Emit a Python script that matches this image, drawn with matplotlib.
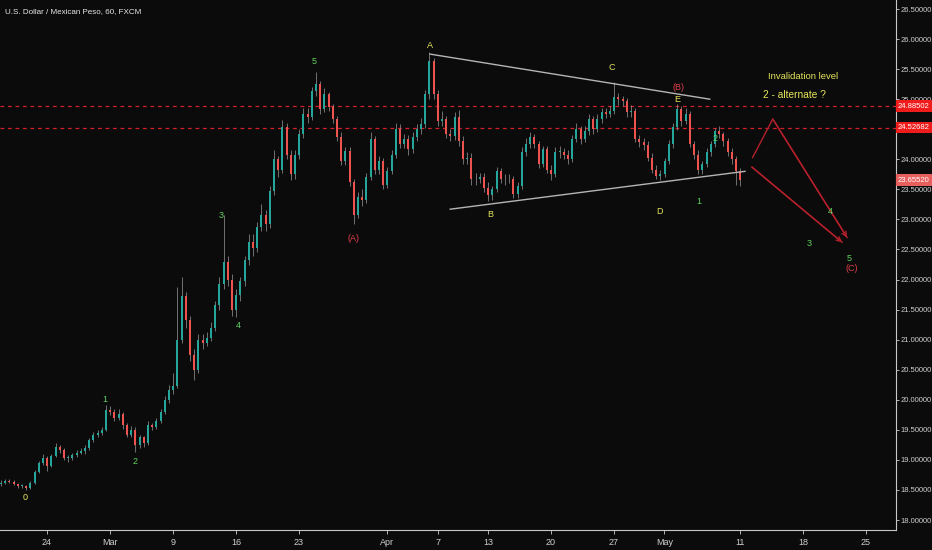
import matplotlib
matplotlib.use("Agg")
import matplotlib.pyplot as plt
import numpy as np

plt.rcParams['font.family'] = ['Liberation Sans', 'DejaVu Sans']

# 8-hour candles (close / high / low), USDMXN 2020
closes = [18.62, 18.65, 18.63, 18.60, 18.57, 18.57, 18.53, 18.62, 18.80, 18.95,
          19.03, 18.90, 19.07, 19.22, 19.17, 19.03, 19.03, 19.08, 19.12, 19.15,
          19.20, 19.33, 19.42, 19.45, 19.50, 19.83, 19.80, 19.70, 19.77, 19.58,
          19.42, 19.50, 19.25, 19.38, 19.28, 19.58, 19.55, 19.65, 19.80, 20.00,
          20.17, 20.23, 21.00, 21.72, 21.33, 20.75, 20.50, 21.00, 20.95, 21.03,
          21.20, 21.58, 21.92, 22.30, 22.00, 21.50, 21.75, 21.97, 22.33, 22.62,
          22.53, 22.87, 23.08, 22.92, 23.47, 24.00, 23.83, 24.53, 24.08, 23.75,
          24.08, 24.42, 24.75, 24.70, 25.13, 25.25, 24.83, 25.08, 24.87, 24.67,
          24.37, 23.97, 24.13, 23.62, 23.08, 23.37, 23.33, 23.70, 24.33, 23.83,
          23.97, 23.58, 23.80, 24.08, 24.50, 24.25, 24.33, 24.17, 24.37, 24.50,
          24.58, 25.08, 25.63, 25.08, 24.63, 24.67, 24.42, 24.38, 24.70, 24.30,
          24.00, 24.03, 23.67, 23.67, 23.70, 23.53, 23.40, 23.50, 23.80, 23.67,
          23.67, 23.67, 23.42, 23.55, 24.12, 24.25, 24.37, 24.25, 23.92, 24.17,
          23.83, 23.75, 24.12, 24.12, 24.08, 24.00, 24.33, 24.50, 24.33, 24.47,
          24.67, 24.50, 24.67, 24.78, 24.75, 24.80, 25.03, 25.00, 24.97, 24.78,
          24.80, 24.33, 24.28, 24.23, 24.03, 23.83, 23.72, 23.75, 23.97, 24.25,
          24.53, 24.83, 24.63, 24.75, 24.25, 24.08, 23.83, 23.92, 24.12, 24.25,
          24.47, 24.42, 24.30, 24.12, 24.00, 23.80, 23.66]

highs = [18.66, 18.68, 18.68, 18.66, 18.62, 18.60, 18.59, 18.65, 18.84, 18.99,
         19.10, 19.06, 19.10, 19.28, 19.25, 19.19, 19.08, 19.12, 19.16, 19.19,
         19.25, 19.37, 19.47, 19.50, 19.55, 19.92, 19.90, 19.84, 19.85, 19.80,
         19.62, 19.56, 19.55, 19.42, 19.40, 19.64, 19.62, 19.70, 19.85, 20.06,
         20.25, 20.45, 21.87, 22.05, 21.80, 21.40, 20.85, 21.10, 21.10, 21.12,
         21.30, 21.65, 22.05, 23.08, 22.40, 22.10, 21.85, 22.05, 22.40, 22.75,
         22.75, 22.95, 23.25, 23.15, 23.55, 24.15, 24.05, 24.65, 24.60, 24.15,
         24.15, 24.50, 24.85, 24.85, 25.20, 25.45, 25.30, 25.18, 25.12, 24.92,
         24.72, 24.45, 24.20, 24.20, 23.68, 23.45, 23.50, 23.78, 24.45, 24.38,
         24.05, 24.02, 23.88, 24.15, 24.60, 24.58, 24.42, 24.40, 24.45, 24.58,
         24.68, 25.15, 25.78, 25.68, 25.15, 24.80, 24.72, 24.50, 24.78, 24.82,
         24.38, 24.12, 24.10, 23.78, 23.78, 23.78, 23.62, 23.55, 23.88, 23.85,
         23.75, 23.75, 23.72, 23.62, 24.20, 24.35, 24.45, 24.42, 24.30, 24.22,
         24.22, 23.90, 24.20, 24.22, 24.18, 24.15, 24.40, 24.60, 24.55, 24.55,
         24.75, 24.72, 24.75, 24.85, 24.85, 24.88, 25.28, 25.10, 25.05, 25.02,
         24.90, 24.85, 24.40, 24.35, 24.30, 24.10, 23.90, 23.82, 24.02, 24.32,
         24.60, 24.92, 24.88, 24.85, 24.80, 24.30, 24.15, 23.98, 24.18, 24.30,
         24.52, 24.55, 24.45, 24.35, 24.18, 24.05, 23.85]

lows = [18.57, 18.60, 18.61, 18.58, 18.54, 18.54, 18.50, 18.52, 18.60, 18.78,
        18.92, 18.82, 18.88, 19.04, 19.12, 19.00, 18.97, 19.00, 19.05, 19.09,
        19.10, 19.17, 19.30, 19.38, 19.42, 19.48, 19.74, 19.65, 19.66, 19.52,
        19.38, 19.38, 19.13, 19.20, 19.22, 19.25, 19.50, 19.52, 19.62, 19.77,
        19.95, 20.10, 20.20, 20.95, 21.20, 20.65, 20.33, 20.45, 20.85, 20.90,
        20.98, 21.15, 21.50, 21.85, 21.90, 21.40, 21.37, 21.65, 21.90, 22.25,
        22.40, 22.45, 22.80, 22.80, 22.85, 23.40, 23.70, 23.78, 24.00, 23.65,
        23.68, 24.00, 24.35, 24.60, 24.65, 25.05, 24.75, 24.78, 24.80, 24.60,
        24.30, 23.90, 23.90, 23.55, 22.92, 23.02, 23.22, 23.28, 23.65, 23.75,
        23.75, 23.50, 23.52, 23.75, 24.02, 24.18, 24.18, 24.08, 24.10, 24.30,
        24.42, 24.52, 25.00, 25.00, 24.55, 24.55, 24.35, 24.30, 24.32, 24.22,
        23.92, 23.92, 23.58, 23.58, 23.60, 23.45, 23.30, 23.33, 23.45, 23.60,
        23.58, 23.60, 23.36, 23.36, 23.50, 24.05, 24.18, 24.18, 23.85, 23.88,
        23.78, 23.65, 23.70, 24.02, 24.00, 23.92, 23.95, 24.28, 24.25, 24.28,
        24.40, 24.42, 24.45, 24.60, 24.68, 24.70, 24.75, 24.90, 24.88, 24.70,
        24.70, 24.28, 24.20, 24.15, 23.98, 23.78, 23.68, 23.65, 23.70, 23.92,
        24.18, 24.48, 24.55, 24.58, 24.20, 24.00, 23.75, 23.76, 23.88, 24.05,
        24.20, 24.35, 24.22, 24.05, 23.92, 23.58, 23.56]

first_open = 18.60

# axis labels (trading-day index since Mon 24 Feb)
tick_days = [0, 5, 10, 15, 20, 27, 31, 35, 40, 45, 49, 55, 60, 65]
tick_labels = ['24', 'Mar', '9', '16', '23', 'Apr', '7', '13', '20', '27', 'May', '11', '18', '25']

price_ticks = [18.0, 18.5, 19.0, 19.5, 20.0, 20.5, 21.0, 21.5, 22.0,
               22.5, 23.0, 23.5, 24.0, 24.5, 25.0, 25.5, 26.0, 26.5]

level_hi = 24.88502
level_lo = 24.52682
last_price = 23.65520

# triangle trendlines (day, price)
upper_tl = ([30.4, 52.6], [25.75, 25.00])
lower_tl = ([32.0, 55.4], [23.17, 23.80])

# projected paths
alt_path = ([56.0, 57.6, 63.5], [24.03, 24.67, 22.70])
main_path = ([55.95, 63.1], [23.87, 22.62])

# wave labels: (text, day, price, colour)
GREEN = '#5fd35f'
YEL = '#e6e65a'
RED = '#e0404a'
wave_labels = [
    ('0', -1.75, 18.38, YEL), ('1', 4.6, 20.0, GREEN), ('2', 6.98, 18.97, GREEN),
    ('3', 13.8, 23.07, GREEN), ('4', 15.15, 21.23, GREEN), ('5', 21.2, 25.63, GREEN),
    ('(A)', 24.3, 22.68, RED), ('A', 30.4, 25.9, YEL), ('B', 35.16, 23.08, YEL),
    ('C', 44.85, 25.53, YEL), ('(B)', 50.1, 25.2, RED), ('E', 50.0, 25.0, YEL),
    ('D', 48.65, 23.13, YEL), ('1', 51.7, 23.3, GREEN), ('2', 53.0, 24.35, GREEN),
    ('4', 62.14, 23.13, GREEN), ('3', 60.5, 22.6, GREEN), ('5', 63.7, 22.35, GREEN),
    ('(C)', 63.9, 22.18, RED),
]

BG = '#0b0b0b'
UP = '#26a69a'
DOWN = '#ef5350'

fig = plt.figure(figsize=(9.32, 5.50), dpi=100, facecolor=BG)
ax = fig.add_axes([0, 20 / 550, 896 / 932, 530 / 550], facecolor=BG)

n = len(closes)
xs = -3.65 + np.arange(n) / 3.0
opens = [first_open] + closes[:-1]
o = np.array(opens)
c = np.array(closes)
up = c >= o
cols = np.where(up, UP, DOWN)

ax.vlines(xs, lows, highs, colors='#9a9a9a', linewidth=0.5, zorder=2)
ax.bar(xs, np.maximum(np.abs(c - o), 0.01), bottom=np.minimum(o, c),
       width=0.17, color=cols, linewidth=0, zorder=3)

# invalidation levels
for lv in (level_hi, level_lo):
    ax.axhline(lv, color='#d0202a', linewidth=0.9, linestyle=(0, (3, 3)), zorder=1)

ax.plot(*upper_tl, color='#b5b5b5', linewidth=1.0, zorder=4)
ax.plot(*lower_tl, color='#b5b5b5', linewidth=1.0, zorder=4)

ax.plot(*alt_path, color='#b3202c', linewidth=1.0, zorder=4)
ax.plot(*main_path, color='#b3202c', linewidth=1.0, zorder=4)
for path in (alt_path, main_path):
    ax.annotate('', xy=(path[0][-1], path[1][-1]),
                xytext=(path[0][-2], path[1][-2]),
                arrowprops=dict(arrowstyle='->', color='#b3202c', lw=1.0,
                                shrinkA=0, shrinkB=0, mutation_scale=8))

for txt, dx, py, col in wave_labels:
    ax.text(dx, py, txt, color=col, fontsize=6.5, ha='center', va='center', zorder=5)

ax.text(60.0, 25.37, 'Invalidation level', color=YEL, fontsize=6.8, ha='center', va='center')
ax.text(59.3, 25.07, '2 - alternate ?', color=YEL, fontsize=7.3, ha='center', va='center')

ax.set_xlim(-3.73, 67.38)
ax.set_ylim(17.834, 26.65)

ax.yaxis.tick_right()
ax.set_yticks(price_ticks)
# 24.5 sits fully under the red level tag, as on the original
ax.set_yticklabels(['' if v == 24.5 else '%.5f' % v for v in price_ticks])
ax.set_xticks(tick_days)
ax.set_xticklabels(tick_labels)
ax.tick_params(colors='#cfcfcf', labelsize=6.5, width=0.6)
ax.tick_params(axis='y', length=2, pad=1.2, labelsize=5.5)
ax.tick_params(axis='x', length=3, pad=3)
for side in ('top', 'left'):
    ax.spines[side].set_visible(False)
for side in ('right', 'bottom'):
    ax.spines[side].set_color('#c8c8c8')
    ax.spines[side].set_linewidth(0.8)

# price tags on the right scale
for lv, fc in ((level_hi, '#f01c1c'), (level_lo, '#f01c1c'), (last_price, '#e8605e')):
    ax.text(1.002, lv, '%.5f' % lv, transform=ax.get_yaxis_transform(),
            color='white', fontsize=5.5, ha='left', va='center', clip_on=False,
            zorder=10, bbox=dict(boxstyle='square,pad=0.3', fc=fc, ec='none'))

fig.text(5 / 932, 1 - 12 / 550, 'U.S. Dollar / Mexican Peso, 60, FXCM',
         color='#e8e8e8', fontsize=5.8, ha='left', va='center')

fig.savefig('out.png', dpi=100, facecolor=BG)
